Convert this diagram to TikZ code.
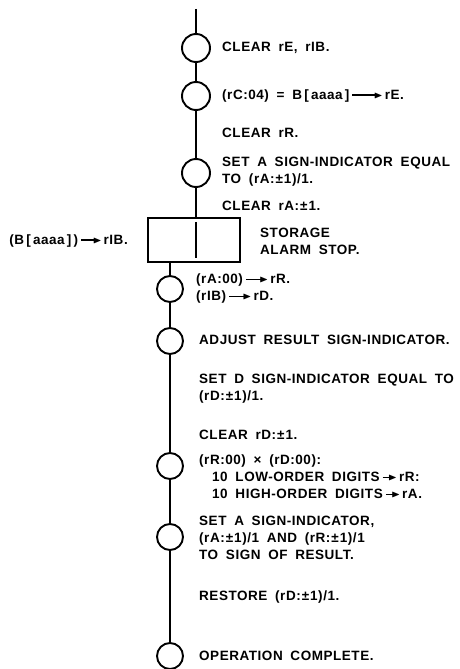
\documentclass[tikz,border=0pt]{standalone}
\usepackage{fontspec}
\usepackage{amssymb}
\usepackage{graphicx}
\setmainfont{Liberation Sans}[LetterSpace=4,WordSpace=1.8]
\usetikzlibrary{positioning}
\newcommand{\arrto}[1][18pt]{\kern3pt\rule[0.29em]{#1}{1.3pt}\kern-2.5pt\raisebox{0.1em}{\scalebox{0.85}[0.75]{$\blacktriangleright$}}\kern2pt}
\newcommand{\pmone}{\kern1pt±\kern1pt1}

\begin{document}
\begin{tikzpicture}[x=1pt,y=-1pt,
  every node/.style={font=\fontsize{13.5}{17}\selectfont\bfseries},
  stepc/.style={draw,circle,line width=1.9pt,minimum size=26pt,inner sep=0pt},
  alarmbox/.style={draw,line width=2.2pt,minimum width=92pt,minimum height=44pt,inner sep=0pt},
  note/.style={anchor=west,align=left,inner sep=0pt},
  flow/.style={line width=2.4pt}
]
\useasboundingbox (0,0) rectangle (460,669);
\coordinate (top) at (196,9);
% steps down the chart
\node[stepc,minimum size=28pt] (s1) at (196,48) {};
\node[stepc,minimum size=28pt] (s2) at (196,96) {};
\node[stepc,minimum size=28pt] (s3) at (196,173) {};
\node[alarmbox] (alarm) at (194,240) {};
\node[stepc] (s4) at (170,289) {};
\node[stepc] (s5) at (170,341) {};
\node[stepc] (s6) at (170,466) {};
\node[stepc] (s7) at (170,537) {};
\node[stepc] (s8) at (170,656) {};

\draw[flow] (top) -- (s1);
\draw[flow] (s1) -- (s2);
\draw[flow] (s2) -- (s3);
\draw[flow] (s3) -- (s3 |- alarm.north);
\draw[flow] (alarm.south -| s4) -- (s4);
\draw[flow] (s4) -- (s5);
\draw[flow] (s5) -- (s6);
\draw[flow] (s6) -- (s7);
\draw[flow] (s7) -- (s8);
\draw[line width=2.2pt] ([yshift=-5pt]alarm.north -| s3) -- ([yshift=5pt]alarm.south -| s3);

% texts
\node[note] (t1) at (222,48) {CLEAR rE, rIB.};
\node[note] (t2) at (222,96) {(rC:04) = B\,[\,aaaa\,]\arrto[24pt]rE.};
\node[note] (t3) at (222,133) {CLEAR rR.};
\node[note] (t4) at (222,172) {SET A SIGN-INDICATOR EQUAL\\TO (rA:\pmone)/1.};
\node[note] (t5) at (222,206) {CLEAR rA:\pmone.};
\node[note] (t6) at (260,241) {STORAGE\\ALARM STOP.};
\node[note,anchor=east] (t7) at (128,241) {(B\,[\,aaaa\,]\,)\arrto[14pt]rIB.};
\node[note] (t8) at (196,289) {(rA:00)\arrto[16pt]rR.\\(rIB)\arrto[16pt]rD.};
\node[note] (t9) at (199,340) {ADJUST RESULT SIGN-INDICATOR.};
\node[note] (t10) at (199,389) {SET D SIGN-INDICATOR EQUAL TO\\(rD:\pmone)/1.};
\node[note] (t11) at (199,435) {CLEAR rD:\pmone.};
\node[note] (t12) at (199,477) {(rR:00) × (rD:00):\\\hspace*{13pt}10 LOW-ORDER DIGITS\arrto[8pt]rR:\\\hspace*{13pt}10 HIGH-ORDER DIGITS\arrto[8pt]rA.};
\node[note] (t13) at (199,538) {SET A SIGN-INDICATOR,\\(rA:\pmone)/1 AND (rR:\pmone)/1\\TO SIGN OF RESULT.};
\node[note] (t14) at (199,597) {RESTORE (rD:\pmone)/1.};
\node[note] (t15) at (199,656) {OPERATION COMPLETE.};
\end{tikzpicture}
\end{document}
